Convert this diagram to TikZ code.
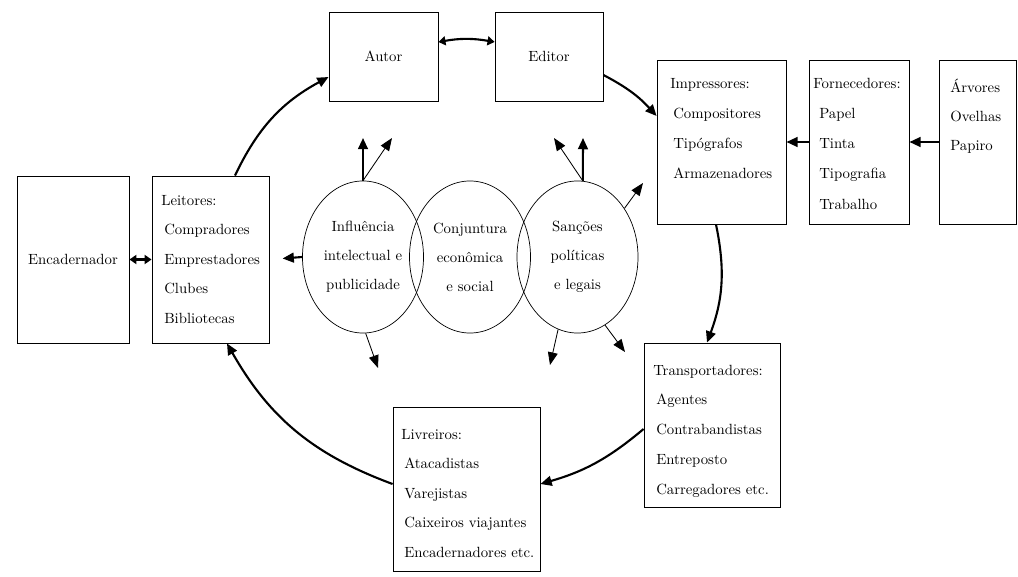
\documentclass[tikz,border=0pt]{standalone}
\usepackage{fontspec}
\usetikzlibrary{arrows.meta}
\usetikzlibrary{shapes.geometric}
\usetikzlibrary{calc}

\begin{document}
\begin{tikzpicture}[x=0.025cm, y=-0.025cm, font=\fontsize{10.5}{20.6}\selectfont]
          \tikzstyle{caixa} = [draw=black, line width=0.6pt, rectangle, inner sep=0pt]
          \tikzstyle{circulo} = [draw=black, line width=0.5pt, ellipse, inner sep=0pt, align=center, minimum width=3.025cm, minimum height=3.8cm]
          \tikzstyle{texto} = [anchor=base west, inner sep=0pt]
          \tikzstyle{fluxo} = [line width=1.5pt, -{Triangle[length=8pt, width=7pt]}]
          \tikzstyle{seta} = [line width=0.6pt, -{Triangle[length=9pt, width=7pt]}]
          \tikzstyle{dupla} = [line width=1.5pt, {Triangle[length=5pt, width=6.5pt]}-{Triangle[length=5pt, width=6.5pt]}]

          \useasboundingbox (0,0) rectangle (1018,577);

          % Boxes
          \node[caixa, minimum width=2.8cm, minimum height=4.175cm] (encad) at (73,259.5) {Encadernador};
          \node[caixa, minimum width=2.925cm, minimum height=4.175cm] (leit) at (210.5,259.5) {};
          \node[caixa, minimum width=2.725cm, minimum height=2.225cm] (autor) at (383.5,56.5) {Autor};
          \node[caixa, minimum width=2.7cm, minimum height=2.225cm] (editor) at (549,56.5) {Editor};
          \node[caixa, minimum width=3.225cm, minimum height=4.1cm] (impr) at (721.5,142) {};
          \node[caixa, minimum width=2.5cm, minimum height=4.1cm] (forn) at (859,142) {};
          \node[caixa, minimum width=1.925cm, minimum height=4.1cm] (arv) at (977.5,142) {};
          \node[caixa, minimum width=3.4cm, minimum height=4.1cm] (transp) at (712,425) {};
          \node[caixa, minimum width=3.675cm, minimum height=4.1cm] (livr) at (466.5,489) {};

          % Lists
          \node[texto] (leit-0) at (161,205) {Leitores:};
          \foreach \t [count=\i] in {Compradores, Emprestadores, Clubes, Bibliotecas}
            \node[texto] (leit-\i) at (164, 205+29.5*\i) {\t};

          \node[texto] (impr-0) at (670,89) {Impressores:};
          \foreach \t [count=\i] in {Compositores, Tipógrafos, Armazenadores}
            \node[texto] (impr-\i) at (673, 89+29.7*\i) {\t};

          \node[texto] (forn-0) at (813,89) {Fornecedores:};
          \foreach \t [count=\i] in {Papel, Tinta, Tipografia, Trabalho}
            \node[texto] (forn-\i) at (819, 89+30*\i) {\t};

          \foreach \t [count=\i from 0] in {Árvores, Ovelhas, Papiro}
            \node[texto] (arv-\i) at (950, 93+29*\i) {\t};

          \node[texto] (transp-0) at (653,375) {Transportadores:};
          \foreach \t [count=\i] in {Agentes, Contrabandistas, Entreposto, Carregadores etc.}
            \node[texto] (transp-\i) at (656, 375+29.8*\i) {\t};

          \node[texto] (livr-0) at (401,439) {Livreiros:};
          \foreach \t [count=\i] in {Atacadistas, Varejistas, Caixeiros viajantes, Encadernadores etc.}
            \node[texto] (livr-\i) at (404, 439+29.5*\i) {\t};

          % Circles
          \node[circulo] (infl) at (363,257) {Influência\\intelectual e\\publicidade};
          \node[circulo] (conj) at (470,257) {Conjuntura\\econômica\\e social};
          \node[circulo] (sanc) at (577.5,257) {Sanções\\políticas\\e legais};

          % Cycle
          \draw[fluxo] ($(leit.north)+(24.5,0)$) to[bend left=18] ($(autor.west)+(0,20.5)$);
          \draw[dupla] ($(autor.east)+(0,-14.5)$) to[bend left=10] ($(editor.west)+(0,-14.5)$);
          \draw[fluxo] ($(editor.east)+(0,18.5)$) to[bend left=10] ($(impr.west)+(0,-26)$);
          \draw[fluxo] ($(impr.south)+(-5.5,0)$) to[bend left=16] ($(transp.north)+(-5,0)$);
          \draw[fluxo] ($(transp.west)+(0,4)$) to[bend left=12] ($(livr.east)+(0,-5)$);
          \draw[fluxo] ($(livr.west)+(0,-5)$) to[bend left=20] ($(leit.south)+(16.5,0)$);

          % Suppliers
          \draw[fluxo] (forn.west) -- (impr.east);
          \draw[fluxo] (arv.west) -- (forn.east);
          \draw[dupla] (encad.east) -- (leit.west);
          \draw[fluxo, shorten >=0.33cm] (infl.west) -- (leit.east);

          % Influences
          \coordinate (i1) at (363,138);
          \coordinate (i2) at (392,138);
          \coordinate (i3) at (378,368);
          \coordinate (s1) at (583,138);
          \coordinate (s2) at (554,138);
          \coordinate (s3) at (643,183);
          \coordinate (s4) at (550,365);
          \coordinate (s5) at (625,352);
          \draw[fluxo] (infl.north) -- (i1);
          \draw[seta] (infl.north) -- (i2);
          \draw[seta] (infl.272) -- (i3);
          \draw[fluxo] (sanc.86) -- (s1);
          \draw[seta] (sanc.86) -- (s2);
          \draw[seta] (sanc.46) -- (s3);
          \draw[seta] (sanc.255) -- (s4);
          \draw[seta] (sanc.292) -- (s5);

        \end{tikzpicture}
\end{document}
